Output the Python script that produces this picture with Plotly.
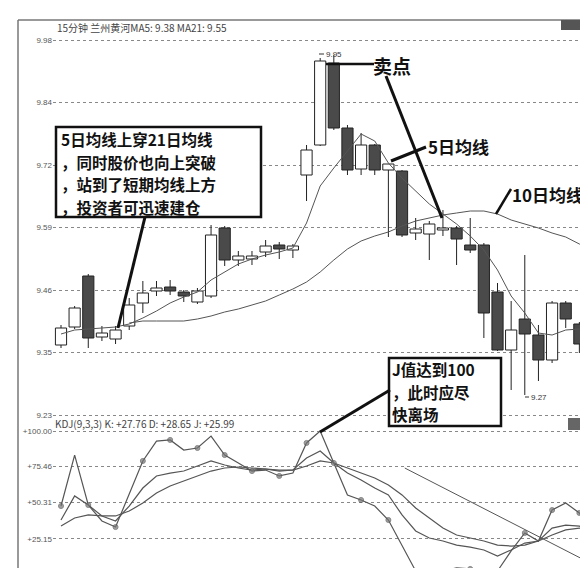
import plotly.graph_objects as go

# ---------------- data ----------------
idx = list(range(1, 41))
open_ = [9.370, 9.406, 9.508, 9.386, 9.382, 9.408, 9.454, 9.478, 9.486, 9.476,
         9.456, 9.468, 9.604, 9.540, 9.542, 9.556, 9.570, 9.560, 9.710, 9.770,
         9.934, 9.804, 9.722, 9.770, 9.720, 9.718, 9.594, 9.592, 9.600, 9.604,
         9.570, 9.570, 9.476, 9.360, 9.422, 9.390, 9.340, 9.454, 9.412, 9.360]
high = [9.410, 9.448, 9.512, 9.408, 9.408, 9.464, 9.498, 9.498, 9.500, 9.480,
        9.484, 9.610, 9.608, 9.558, 9.558, 9.580, 9.576, 9.572, 9.770, 9.944,
        9.950, 9.810, 9.794, 9.772, 9.732, 9.720, 9.624, 9.618, 9.640, 9.608,
        9.624, 9.574, 9.494, 9.458, 9.550, 9.410, 9.458, 9.458, 9.416, 9.364]
low = [9.364, 9.402, 9.364, 9.378, 9.372, 9.400, 9.434, 9.468, 9.470, 9.456,
       9.452, 9.464, 9.528, 9.528, 9.530, 9.546, 9.542, 9.544, 9.658, 9.768,
       9.800, 9.710, 9.710, 9.710, 9.586, 9.586, 9.580, 9.540, 9.588, 9.530,
       9.554, 9.384, 9.358, 9.280, 9.270, 9.298, 9.334, 9.404, 9.354, 9.298]
close = [9.404, 9.444, 9.384, 9.394, 9.400, 9.450, 9.474, 9.484, 9.478, 9.468,
         9.478, 9.590, 9.540, 9.548, 9.548, 9.568, 9.562, 9.568, 9.760, 9.938,
         9.804, 9.720, 9.770, 9.720, 9.732, 9.590, 9.602, 9.612, 9.604, 9.582,
         9.560, 9.434, 9.360, 9.400, 9.392, 9.340, 9.454, 9.422, 9.372, 9.318]

ma5 = [9.392, 9.400, 9.402, 9.404, 9.406, 9.412, 9.424, 9.438, 9.454, 9.466,
       9.476, 9.500, 9.516, 9.532, 9.542, 9.550, 9.556, 9.564, 9.614, 9.688,
       9.724, 9.758, 9.792, 9.778, 9.734, 9.704, 9.678, 9.652, 9.632, 9.612,
       9.588, 9.560, 9.520, 9.468, 9.434, 9.394, 9.390, 9.400, 9.402, 9.388]
ma_long = [None, None, None, None, None,
           9.414, 9.418, 9.418, 9.418, 9.418, 9.422, 9.428, 9.436, 9.442, 9.450,
           9.458, 9.470, 9.482, 9.496, 9.516, 9.540, 9.562, 9.578, 9.588, 9.596,
           9.608, 9.618, 9.624, 9.630, 9.634, 9.638, 9.638, 9.632, 9.620, 9.612,
           9.604, 9.594, 9.586, 9.572, 9.558]

k_val = [38.2, 54.9, 48.6, 41.0, 37.5, 47.9, 60.4, 68.8, 70.8, 72.2,
         75.7, 79.2, 76.4, 74.3, 72.9, 73.6, 72.2, 72.9, 81.3, 86.1,
         77.8, 70.8, 66.0, 60.4, 55.6, 41.7, 30.6, 25.7, 23.6, 20.8,
         19.4, 17.4, 13.2, 17.4, 22.2, 23.6, 32.6, 34.7, 34.0, 27.76]
d_val = [34.0, 39.6, 41.7, 41.0, 41.0, 44.4, 50.0, 56.9, 61.8, 65.3,
         68.8, 72.2, 74.3, 75.0, 74.3, 73.6, 72.9, 72.9, 75.7, 79.2,
         77.8, 74.3, 70.8, 67.4, 62.5, 55.6, 46.5, 39.6, 32.6, 27.8,
         25.7, 23.6, 20.8, 20.1, 20.8, 23.6, 27.8, 31.3, 32.6, 28.65]
j_val = [47.9, 83.3, 48.6, 37.5, 33.3, 55.6, 79.2, 93.0, 93.8, 86.8,
         88.2, 96.5, 83.3, 77.8, 72.2, 72.9, 68.8, 70.8, 91.7, 100.0,
         77.8, 55.6, 52.1, 47.9, 38.2, 20.8, 2.8, 2.8, 2.8, 4.9,
         4.2, 3.5, 2.8, 16.7, 29.2, 23.6, 45.1, 50.0, 43.1, 25.99]

price_tick_pos = [9.98, 9.855, 9.73, 9.605, 9.48, 9.355, 9.23]
price_tick_labels = ["9.98", "9.84", "9.72", "9.59", "9.46", "9.35", "9.23"]
kdj_tick_pos = [100.0, 75.46, 50.31, 25.15]
kdj_tick_labels = ["+100.00", "+75.46", "+50.31", "+25.15"]

title_text = "15分钟 兰州黄河MA5: 9.38 MA21: 9.55"
kdj_text = "KDJ(9,3,3) K: +27.76 D: +28.65 J: +25.99"
box1_lines = ["5日均线上穿21日均线", "，同时股价也向上突破", "，站到了短期均线上方", "，投资者可迅速建仓"]
box2_lines = ["J值达到100", "，此时应尽", "快离场"]

# --------------- figure ---------------
W, H = 588, 568
def px(x):
    return x / W
def py(y):
    return 1 - y / H

DARK = "#4a4a4a"
LINE = "#555555"
CJK = "Noto Sans CJK SC"

fig = go.Figure()

# wicks
wx, wy = [], []
for i, o, h, l, c in zip(idx, open_, high, low, close):
    top, bot = max(o, c), min(o, c)
    wx += [i, i, None, i, i, None]
    wy += [h, top, None, bot, l, None]
fig.add_trace(go.Scatter(x=wx, y=wy, mode="lines", line=dict(color="#222", width=1),
                         hoverinfo="skip", yaxis="y"))

# bodies
heights = [max(abs(c - o), 0.004) for o, c in zip(open_, close)]
bases = [min(o, c) for o, c in zip(open_, close)]
colors = ["white" if c >= o else DARK for o, c in zip(open_, close)]
fig.add_trace(go.Bar(x=idx, y=heights, base=bases, width=0.82,
                     marker=dict(color=colors, line=dict(color="#222", width=1)),
                     yaxis="y"))

# moving averages
fig.add_trace(go.Scatter(x=idx, y=ma5, mode="lines", line=dict(color=LINE, width=1),
                         yaxis="y"))
fig.add_trace(go.Scatter(x=idx, y=ma_long, mode="lines", line=dict(color=LINE, width=1),
                         yaxis="y"))

# KDJ
fig.add_trace(go.Scatter(x=idx, y=d_val, mode="lines", line=dict(color=LINE, width=1.2),
                         yaxis="y2"))
fig.add_trace(go.Scatter(x=idx, y=k_val, mode="lines", line=dict(color=LINE, width=1.2),
                         yaxis="y2"))
msize = [5 if i % 2 == 1 else 0 for i in idx]
fig.add_trace(go.Scatter(x=idx, y=j_val, mode="lines+markers",
                         line=dict(color=LINE, width=1.2),
                         marker=dict(size=msize, color="#777"),
                         yaxis="y2"))

shapes = []
def pline(x0, y0, x1, y1, w=3, color="#111"):
    shapes.append(dict(type="line", xref="paper", yref="paper",
                       x0=px(x0), y0=py(y0), x1=px(x1), y1=py(y1),
                       line=dict(color=color, width=w), layer="above"))
def prect(x0, y0, x1, y1, w=2.5, fill="white", color="#111"):
    shapes.append(dict(type="rect", xref="paper", yref="paper",
                       x0=px(x0), y0=py(y0), x1=px(x1), y1=py(y1),
                       line=dict(color=color, width=w), fillcolor=fill, layer="above"))

# frame
pline(10, 12, 588, 12, w=1.5, color="#777")
pline(10, 12, 10, 568, w=1.5, color="#777")
prect(553, 12, 587, 22, w=0, fill="#555", color="#555")
prect(560, 410, 588, 422, w=0, fill="#666", color="#666")

# KDJ trend line
shapes.append(dict(type="line", xref="x", yref="y2", x0=26.2, y0=74.3, x1=40.22, y1=6.25,
                   line=dict(color=LINE, width=1), layer="above"))

# annotation boxes and pointers
prect(48, 119, 253, 209)
pline(137, 209, 110, 320)
pline(318, 56, 366, 56, w=2.5)
pline(378, 68, 434, 210)
pline(418, 139, 383, 153)
pline(503, 181, 488, 206, w=2.5)
prect(381, 350, 493, 418)
pline(382, 382, 312, 424)
pline(517, 389, 521, 389, w=1, color="#333")
pline(311, 46, 316, 46, w=1, color="#333")

annotations = []
def ptext(x, y, text, size, anchor="left", color="#111", family=CJK, align="left"):
    annotations.append(dict(x=px(x), y=py(y), xref="paper", yref="paper", text=text,
                            showarrow=False, xanchor=anchor, yanchor="middle", align=align,
                            font=dict(size=size, color=color, family=family)))

ptext(47, 20, title_text, 10, color="#444")
ptext(45, 415, kdj_text, 10, color="#444")
for n, t in enumerate(box1_lines):
    ptext(51, 131 + n * 22.5, "<b>" + t + "</b>", 15.5)
for n, t in enumerate(box2_lines):
    ptext(382, 361 + n * 22.5, "<b>" + t + "</b>", 15.5)
ptext(384, 57, "<b>卖点</b>", 19, anchor="center")
ptext(418, 138, "<b>5日均线</b>", 17)
ptext(502, 186, "<b>10日均线</b>", 17)
ptext(316, 46, "9.95", 8, color="#333", family="Liberation Sans")
ptext(521, 389, "9.27", 8, color="#333", family="Liberation Sans")

axis_font = dict(size=8, color="#555", family="Liberation Sans")
fig.update_layout(
    width=W, height=H, margin=dict(l=0, r=0, t=0, b=0),
    paper_bgcolor="white", plot_bgcolor="white", showlegend=False,
    xaxis=dict(domain=[45 / W, 1], range=[0.4135, 40.22], anchor="y2",
               showgrid=False, zeroline=False, showticklabels=False, ticks=""),
    yaxis=dict(domain=[py(410), py(12)], range=[9.224, 10.020], anchor="x",
               tickvals=price_tick_pos, ticktext=price_tick_labels, tickfont=axis_font,
               showgrid=True, griddash="dot", gridcolor="#888", gridwidth=1,
               zeroline=False, ticks="", automargin=False),
    yaxis2=dict(domain=[0, py(412)], range=[-0.69, 107.64], anchor="x",
                tickvals=kdj_tick_pos, ticktext=kdj_tick_labels, tickfont=axis_font,
                showgrid=True, griddash="dot", gridcolor="#888", gridwidth=1,
                zeroline=False, ticks="", automargin=False),
    shapes=shapes, annotations=annotations,
)

fig.write_html("out.html")
